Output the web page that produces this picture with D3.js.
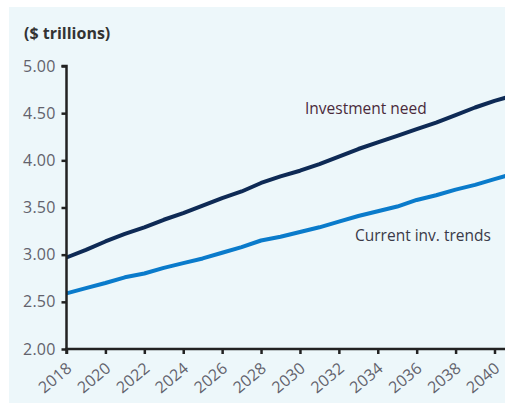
<!DOCTYPE html>
<html lang="en">
<head>
    <meta charset="UTF-8">
    <script src="https://d3js.org/d3.v7.min.js"></script>
    <title>Investment need vs current trends</title>
    <style>
        html, body {
            margin: 0px;
            padding: 0px;
            background-color: #ffffff;
            font-family: "Open Sans", sans-serif;
        }
        svg { display: block; }
    </style>
</head>
<body>
    <div id="chart"></div>

    <script>
        // data ($ trillions)
        let years = [2018, 2019, 2020, 2021, 2022, 2023, 2024, 2025, 2026, 2027, 2028, 2029,
                     2030, 2031, 2032, 2033, 2034, 2035, 2036, 2037, 2038, 2039, 2040, 2041];
        let investmentNeed = [2.97, 3.05, 3.14, 3.22, 3.29, 3.37, 3.44, 3.52, 3.60, 3.67, 3.76, 3.83,
                              3.89, 3.96, 4.04, 4.12, 4.19, 4.26, 4.33, 4.40, 4.48, 4.56, 4.63, 4.69];
        let currentTrends = [2.59, 2.645, 2.70, 2.76, 2.80, 2.86, 2.91, 2.96, 3.02, 3.08, 3.15, 3.19,
                             3.24, 3.29, 3.35, 3.41, 3.46, 3.51, 3.58, 3.63, 3.69, 3.74, 3.80, 3.86];
        let xTicks = [2018, 2020, 2022, 2024, 2026, 2028, 2030, 2032, 2034, 2036, 2038, 2040];
        let yTicks = [2.00, 2.50, 3.00, 3.50, 4.00, 4.50, 5.00];

        let width = 505;
        let height = 406;

        let svg = d3.select('#chart').append('svg').attr('width', width).attr('height', height);

        svg.append('rect')
            .attr('x', 9).attr('y', 7)
            .attr('width', width - 9).attr('height', height - 10)
            .attr('fill', '#edf7fa');

        let x = d3.scaleLinear().domain([2018, 2040]).range([66.5, 494.5]);
        let y = d3.scaleLinear().domain([2, 5]).range([349, 66]);

        svg.append('text')
            .attr('x', 24).attr('y', 39)
            .attr('font-size', 16).attr('font-weight', 'bold')
            .attr('fill', '#333')
            .text('($ trillions)');

        // lines
        let series = [
            {values: investmentNeed, color: '#0e2a55'},
            {values: currentTrends, color: '#0a7bcb'}
        ];
        let line = d3.line()
            .x((d, i) => x(years[i]))
            .y((d) => y(d));

        svg.selectAll('path.series')
            .data(series)
            .join('path')
            .attr('class', 'series')
            .attr('d', (s) => line(s.values))
            .attr('fill', 'none')
            .attr('stroke', (s) => s.color)
            .attr('stroke-width', 4)
            .attr('stroke-linejoin', 'round');

        // axes
        let yAxis = svg.append('g')
            .attr('transform', `translate(${x(2018)},0)`)
            .call(d3.axisLeft(y).tickValues(yTicks).tickFormat(d3.format('.2f')).tickSize(5).tickPadding(6));
        let xAxis = svg.append('g')
            .attr('transform', `translate(0,${y(2)})`)
            .call(d3.axisBottom(x).tickValues(xTicks).tickFormat(d3.format('d')).tickSize(5).tickPadding(6));
        // x axis runs on to the right edge
        xAxis.select('.domain').attr('d', `M${x(2018)},5V0H${width}`);
        yAxis.select('.domain').attr('d', `M-5,${y(5)}H0V${y(2)}`);

        svg.selectAll('.domain').attr('stroke', '#222').attr('stroke-width', 2.5);
        svg.selectAll('.tick line').attr('stroke', '#222').attr('stroke-width', 2.5);
        svg.selectAll('.tick text')
            .attr('fill', '#62626c')
            .attr('font-size', 16)
            .attr('letter-spacing', 0.2)
            .attr('font-family', '"Open Sans", sans-serif');

        xAxis.selectAll('.tick text')
            .attr('text-anchor', 'end')
            .attr('dy', null)
            .attr('y', 0)
            .attr('transform', 'translate(6,21) rotate(-40)');

        // series labels
        svg.append('text')
            .attr('x', 305).attr('y', 114)
            .attr('font-size', 15.5).attr('fill', '#4a2a3a')
            .text('Investment need');
        svg.append('text')
            .attr('x', 355).attr('y', 241)
            .attr('font-size', 15.5).attr('fill', '#3a3a48')
            .text('Current inv. trends');
    </script>
</body>
</html>
